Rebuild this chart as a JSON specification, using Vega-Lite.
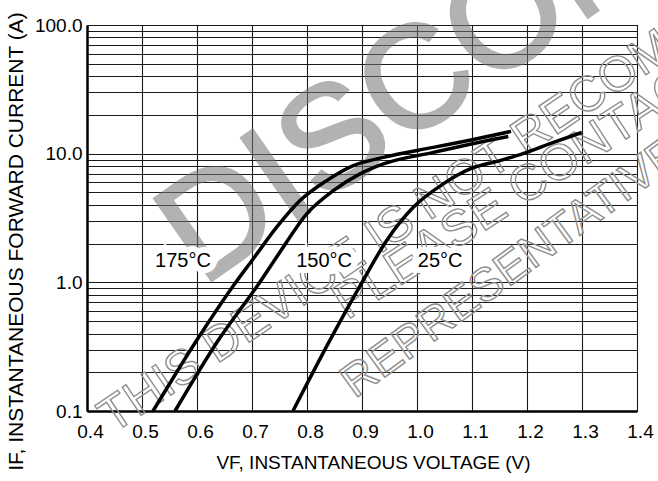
{
  "$schema": "https://vega.github.io/schema/vega-lite/v6.json",
  "width": 550,
  "height": 386,
  "autosize": {"type": "none"},
  "padding": {"left": 87, "top": 25, "right": 21, "bottom": 70},
  "background": "white",
  "config": {"view": {"stroke": "black", "strokeWidth": 1}, "font": "Liberation Sans"},
  "datasets": {
    "curves": [
      {"t": "175", "v": 0.520, "i": 0.100},
      {"t": "175", "v": 0.5995, "i": 0.355},
      {"t": "175", "v": 0.669, "i": 0.981},
      {"t": "175", "v": 0.7024, "i": 1.527},
      {"t": "175", "v": 0.7449, "i": 2.684},
      {"t": "175", "v": 0.7873, "i": 4.322},
      {"t": "175", "v": 0.8358, "i": 6.176},
      {"t": "175", "v": 0.8842, "i": 8.07},
      {"t": "175", "v": 0.9387, "i": 9.36},
      {"t": "175", "v": 1.0296, "i": 11.19},
      {"t": "175", "v": 1.096, "i": 12.73},
      {"t": "175", "v": 1.171, "i": 14.9},
      {"t": "150", "v": 0.560, "i": 0.100},
      {"t": "150", "v": 0.6387, "i": 0.355},
      {"t": "150", "v": 0.7127, "i": 0.981},
      {"t": "150", "v": 0.7509, "i": 1.72},
      {"t": "150", "v": 0.7995, "i": 3.41},
      {"t": "150", "v": 0.8478, "i": 5.16},
      {"t": "150", "v": 0.8964, "i": 6.96},
      {"t": "150", "v": 0.9387, "i": 8.32},
      {"t": "150", "v": 1.0296, "i": 10.23},
      {"t": "150", "v": 1.0964, "i": 11.85},
      {"t": "150", "v": 1.166, "i": 13.6},
      {"t": "25", "v": 0.7745, "i": 0.100},
      {"t": "25", "v": 0.8418, "i": 0.355},
      {"t": "25", "v": 0.8995, "i": 0.99},
      {"t": "25", "v": 0.9449, "i": 2.117},
      {"t": "25", "v": 0.9933, "i": 3.83},
      {"t": "25", "v": 1.0478, "i": 5.82},
      {"t": "25", "v": 1.0964, "i": 7.61},
      {"t": "25", "v": 1.1509, "i": 8.83},
      {"t": "25", "v": 1.1927, "i": 10.0},
      {"t": "25", "v": 1.2418, "i": 11.95},
      {"t": "25", "v": 1.2995, "i": 14.6}
    ],
    "labels": [
      {"text": "175°C", "v": 0.5745, "i": 1.468},
      {"text": "150°C", "v": 0.831, "i": 1.468},
      {"text": "25°C", "v": 1.042, "i": 1.468}
    ],
    "wmBig": [
      {"text": "DISCONTINUED", "v": 0.6091, "i": 0.915}
    ],
    "wmLine1": [
      {"text": "THIS DEVICE IS NOT RECOMMENDED FOR NEW DESIGN", "v": 0.447, "i": 0.066}
    ],
    "wmLine2": [
      {"text": "PLEASE CONTACT YOUR ON SEMICONDUCTOR", "v": 0.8727, "i": 0.507}
    ],
    "wmLine3": [
      {"text": "REPRESENTATIVE FOR INFORMATION", "v": 0.8870, "i": 0.124}
    ]
  },
  "encoding": {
    "x": {
      "field": "v",
      "type": "quantitative",
      "scale": {"type": "linear", "domain": [0.4, 1.4], "nice": false, "zero": false},
      "axis": {
        "title": "VF, INSTANTANEOUS VOLTAGE (V)",
        "values": [0.4, 0.5, 0.6, 0.7, 0.8, 0.9, 1.0, 1.1, 1.2, 1.3, 1.4],
        "format": ".1f",
        "grid": true,
        "gridColor": "#1a1a1a",
        "gridWidth": 1.1,
        "ticks": false,
        "tickSize": 0,
        "domainColor": "black",
        "domainWidth": 2.5,
        "labelFont": "Liberation Sans",
        "labelFontSize": 19,
        "labelColor": "black",
        "labelPadding": 11,
        "labelFlush": false,
        "labelOverlap": false,
        "labelBound": false,
        "labelOffset": 3,
        "titleFont": "Liberation Sans",
        "titleFontSize": 19,
        "titleFontWeight": "normal",
        "titleColor": "black",
        "titleX": 286,
        "titleY": 57,
        "titleBaseline": "alphabetic",
        "titleAlign": "center"
      }
    },
    "y": {
      "field": "i",
      "type": "quantitative",
      "scale": {"type": "log", "domain": [0.1, 100], "nice": false},
      "axis": {
        "title": "IF, INSTANTANEOUS FORWARD CURRENT (A)",
        "values": [0.1, 0.2, 0.3, 0.4, 0.5, 0.6, 0.7, 0.8, 0.9, 1, 2, 3, 4, 5, 6, 7, 8, 9, 10, 20, 30, 40, 50, 60, 70, 80, 90, 100],
        "labelExpr": "(datum.value == 0.1 || datum.value == 1 || datum.value == 10 || datum.value == 100) ? format(datum.value, '.1f') : ''",
        "grid": true,
        "gridColor": "#1a1a1a",
        "gridWidth": 1.1,
        "ticks": false,
        "tickSize": 0,
        "domainColor": "black",
        "domainWidth": 2.5,
        "labelFont": "Liberation Sans",
        "labelFontSize": 19,
        "labelColor": "black",
        "labelPadding": 5,
        "labelOverlap": false,
        "labelBound": false,
        "titleFont": "Liberation Sans",
        "titleFontSize": 21,
        "titleFontWeight": "normal",
        "titleColor": "black",
        "titleAngle": -90,
        "titleX": -65,
        "titleY": 216,
        "titleBaseline": "alphabetic",
        "titleAlign": "center"
      }
    }
  },
  "layer": [
    {
      "data": {"name": "wmBig"},
      "mark": {"type": "text", "align": "left", "baseline": "alphabetic", "angle": -35, "fontSize": 145, "font": "Liberation Sans", "fill": "#757575", "stroke": "#757575", "strokeWidth": 3, "opacity": 0.55},
      "encoding": {"text": {"field": "text", "type": "nominal"}}
    },
    {
      "data": {"name": "wmLine1"},
      "mark": {"type": "text", "align": "left", "baseline": "alphabetic", "angle": -34, "fontSize": 49, "font": "Liberation Sans", "fill": "white", "fillOpacity": 0, "stroke": "#8f8f8f", "strokeWidth": 1.4},
      "encoding": {"text": {"field": "text", "type": "nominal"}}
    },
    {
      "data": {"name": "wmLine2"},
      "mark": {"type": "text", "align": "left", "baseline": "alphabetic", "angle": -33, "fontSize": 50, "font": "Liberation Sans", "fill": "white", "fillOpacity": 0, "stroke": "#8f8f8f", "strokeWidth": 1.4},
      "encoding": {"text": {"field": "text", "type": "nominal"}}
    },
    {
      "data": {"name": "wmLine3"},
      "mark": {"type": "text", "align": "left", "baseline": "alphabetic", "angle": -36, "fontSize": 46, "font": "Liberation Sans", "fill": "white", "fillOpacity": 0, "stroke": "#8f8f8f", "strokeWidth": 1.4},
      "encoding": {"text": {"field": "text", "type": "nominal"}}
    },
    {
      "data": {"name": "labels"},
      "mark": {"type": "text", "align": "center", "baseline": "middle", "fontSize": 20, "font": "Liberation Sans", "fill": "white", "stroke": "white", "strokeWidth": 12},
      "encoding": {"text": {"field": "text", "type": "nominal"}}
    },
    {
      "data": {"name": "labels"},
      "mark": {"type": "text", "align": "center", "baseline": "middle", "fontSize": 20, "font": "Liberation Sans", "fill": "black"},
      "encoding": {"text": {"field": "text", "type": "nominal"}}
    },
    {
      "data": {"name": "curves"},
      "mark": {"type": "line", "interpolate": "monotone", "color": "black", "strokeWidth": 3.5},
      "encoding": {"detail": {"field": "t", "type": "nominal"}}
    }
  ]
}
